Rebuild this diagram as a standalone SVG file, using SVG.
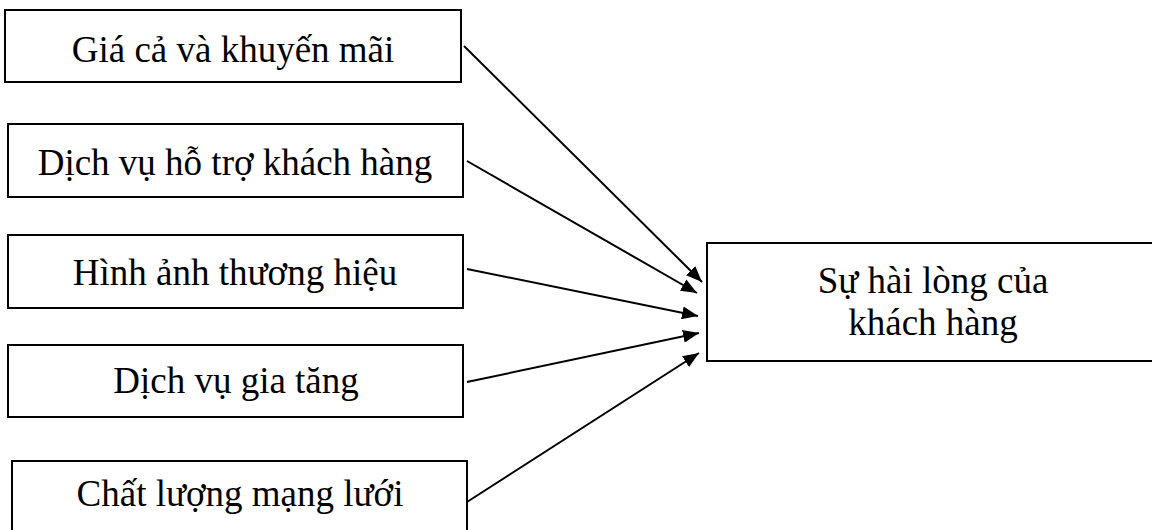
<svg xmlns="http://www.w3.org/2000/svg" width="1152" height="530" viewBox="0 0 1152 530">
<style>
.box{fill:#fff;stroke:#000;stroke-width:2}
.lbl{font-family:"Liberation Serif","Times New Roman",serif;font-size:37px;fill:#000;text-anchor:middle}
.conn{stroke:#000;stroke-width:2;fill:none;marker-end:url(#ah)}
</style>
<defs>
<marker id="ah" viewBox="0 0 16 13" refX="16" refY="6.5" markerWidth="16" markerHeight="13" markerUnits="userSpaceOnUse" orient="auto">
<path d="M0,0 L16,6.5 L0,13 z" fill="#000"/>
</marker>
</defs>
<rect width="1152" height="530" fill="#fff"/>
<g id="n1"><rect class="box" x="5" y="10" width="456" height="72"/><text class="lbl" x="233" y="62">Giá cả và khuyến mãi</text></g>
<g id="n2"><rect class="box" x="8" y="124" width="455" height="73"/><text class="lbl" x="235" y="175">Dịch vụ hỗ trợ khách hàng</text></g>
<g id="n3"><rect class="box" x="8" y="235" width="455" height="73"/><text class="lbl" x="235" y="285">Hình ảnh thương hiệu</text></g>
<g id="n4"><rect class="box" x="8" y="345" width="455" height="72"/><text class="lbl" x="236" y="393">Dịch vụ gia tăng</text></g>
<g id="n5"><rect class="box" x="12" y="461" width="455" height="80"/><text class="lbl" x="240" y="506">Chất lượng mạng lưới</text></g>
<g id="target"><rect class="box" x="707" y="243" width="460" height="118"/><text class="lbl" x="933" y="293">Sự hài lòng của</text><text class="lbl" x="933" y="335">khách hàng</text></g>
<g id="connectors">
<line class="conn" x1="464" y1="46" x2="702" y2="282"/>
<line class="conn" x1="467" y1="161" x2="697" y2="293"/>
<line class="conn" x1="467" y1="269" x2="698" y2="316"/>
<line class="conn" x1="467" y1="382" x2="699" y2="333"/>
<line class="conn" x1="467" y1="502" x2="699" y2="353"/>
</g>
</svg>
